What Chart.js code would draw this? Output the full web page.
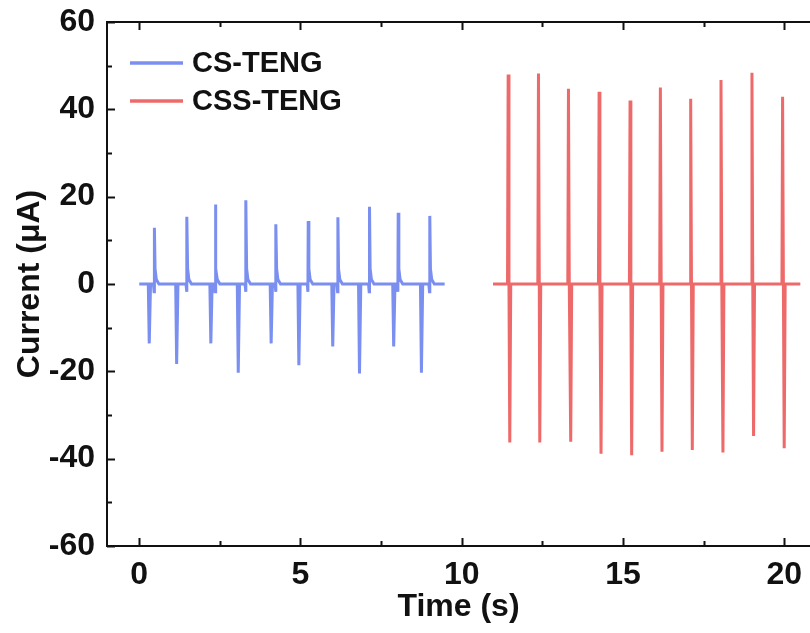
<!DOCTYPE html>
<html>
<head>
<meta charset="utf-8">
<script src="https://cdn.jsdelivr.net/npm/chart.js@4.4.1/dist/chart.umd.min.js"></script>
<style>
  html, body { margin: 0; padding: 0; background: #fff; }
  #wrap { width: 810px; height: 633px; }
</style>
</head>
<body>
<div id="wrap"><canvas id="currentChart" width="810" height="633"></canvas></div>
<script>
// CS-TENG trace (time in s, current in uA)
const csTime = [
    0.00,
    0.28, 0.31, 0.35, 0.44, 0.46, 0.47, 0.49, 0.53, 0.61,
    1.13, 1.16, 1.20, 1.45, 1.47, 1.48, 1.50, 1.54, 1.62,
    2.19, 2.22, 2.26, 2.33, 2.35, 2.36, 2.38, 2.42, 2.50,
    3.04, 3.07, 3.11, 3.28, 3.30, 3.31, 3.33, 3.37, 3.45,
    4.06, 4.09, 4.13, 4.21, 4.23, 4.24, 4.26, 4.30, 4.38,
    4.92, 4.95, 4.99, 5.21, 5.23, 5.24, 5.26, 5.30, 5.38,
    5.97, 6.00, 6.04, 6.13, 6.15, 6.16, 6.18, 6.22, 6.30,
    6.80, 6.83, 6.87, 7.11, 7.13, 7.14, 7.16, 7.20, 7.28,
    7.86, 7.89, 7.93, 8.00, 8.02, 8.03, 8.05, 8.09, 8.17,
    8.72, 8.75, 8.79, 8.98, 9.00, 9.01, 9.03, 9.07, 9.15,
    9.47
];
const csCurrent = [
    0,
    0, -13.6, 0, 0, -1.8, 12.9, 3.5, 1.0, 0,
    0, -18.3, 0, 0, -1.8, 15.4, 3.5, 1.0, 0,
    0, -13.6, 0, 0, -1.8, 18.2, 3.5, 1.0, 0,
    0, -20.3, 0, 0, -1.8, 19.2, 3.5, 1.0, 0,
    0, -13.6, 0, 0, -1.8, 13.7, 3.5, 1.0, 0,
    0, -18.6, 0, 0, -1.8, 14.4, 3.5, 1.0, 0,
    0, -14.3, 0, 0, -1.8, 15.3, 3.5, 1.0, 0,
    0, -20.5, 0, 0, -1.8, 17.7, 3.5, 1.0, 0,
    0, -14.3, 0, 0, -1.8, 16.3, 3.5, 1.0, 0,
    0, -20.3, 0, 0, -1.8, 15.6, 3.5, 1.0, 0,
    0
];

// CSS-TENG trace
const cssTime = [
    10.97,
    11.42, 11.44, 11.465, 11.49, 11.52,
    12.36, 12.38, 12.405, 12.42, 12.45,
    13.29, 13.31, 13.335, 13.38, 13.41,
    14.24, 14.26, 14.285, 14.32, 14.35,
    15.20, 15.22, 15.245, 15.27, 15.30,
    16.14, 16.16, 16.185, 16.21, 16.24,
    17.08, 17.10, 17.125, 17.15, 17.18,
    18.02, 18.04, 18.065, 18.10, 18.13,
    18.98, 19.00, 19.025, 19.05, 19.08,
    19.93, 19.95, 19.975, 20.00, 20.03,
    20.50
];
const cssCurrent = [
    0,
    0, 48.0, 0, -36.3, 0,
    0, 48.2, 0, -36.3, 0,
    0, 44.7, 0, -36.1, 0,
    0, 44.0, 0, -38.9, 0,
    0, 42.0, 0, -39.2, 0,
    0, 45.0, 0, -38.4, 0,
    0, 42.4, 0, -38.0, 0,
    0, 46.7, 0, -38.6, 0,
    0, 48.4, 0, -34.8, 0,
    0, 42.9, 0, -37.6, 0,
    0
];

const xTicks = [0, 5, 10, 15, 20];
const yTicks = [-60, -40, -20, 0, 20, 40, 60];

const FONT = "'Liberation Sans', Arial, sans-serif";
const INK = '#111';

function toPoints(xs, ys) {
    return xs.map((x, i) => ({ x: x, y: ys[i] }));
}

// box (left, top, bottom) and inward ticks like the origin plot
const frame = {
    id: 'frame',
    afterDraw(chart) {
        const ctx = chart.ctx;
        const a = chart.chartArea;
        const xs = chart.scales.x, ys = chart.scales.y;
        ctx.save();
        ctx.strokeStyle = INK;
        ctx.lineWidth = 2;
        ctx.beginPath();
        ctx.moveTo(a.right + 2, a.top);
        ctx.lineTo(a.left, a.top);
        ctx.lineTo(a.left, a.bottom);
        ctx.lineTo(a.right + 2, a.bottom);
        ctx.stroke();
        ctx.beginPath();
        for (let v = 0; v <= 20; v += 2.5) {
            const px = Math.round(xs.getPixelForValue(v)) + 0.5;
            const len = (v % 5 === 0) ? 8 : 5;
            ctx.moveTo(px, a.bottom);
            ctx.lineTo(px, a.bottom - len);
            ctx.moveTo(px, a.top);
            ctx.lineTo(px, a.top + len);
        }
        for (let v = -60; v <= 60; v += 10) {
            const py = Math.round(ys.getPixelForValue(v)) + 0.5;
            const len = (v % 20 === 0) ? 8 : 5;
            ctx.moveTo(a.left, py);
            ctx.lineTo(a.left + len, py);
        }
        ctx.stroke();
        ctx.restore();
    }
};

// legend drawn inside the plot, top-left
const insideLegend = {
    id: 'insideLegend',
    afterDraw(chart) {
        const ctx = chart.ctx;
        const rows = [63, 101];
        ctx.save();
        ctx.font = 'bold 29px ' + FONT;
        ctx.textBaseline = 'middle';
        ctx.fillStyle = INK;
        chart.data.datasets.forEach((ds, i) => {
            const y = rows[i];
            ctx.strokeStyle = ds.borderColor;
            ctx.lineWidth = 3.5;
            ctx.beginPath();
            ctx.moveTo(130, y);
            ctx.lineTo(183, y);
            ctx.stroke();
            ctx.fillText(ds.label, 192, y + 1);
        });
        ctx.restore();
    }
};

new Chart(document.getElementById('currentChart'), {
    type: 'line',
    data: {
        datasets: [{
            label: 'CS-TENG',
            data: toPoints(csTime, csCurrent),
            borderColor: '#7b8ff0',
            borderWidth: 3,
            pointRadius: 0,
            tension: 0
        }, {
            label: 'CSS-TENG',
            data: toPoints(cssTime, cssCurrent),
            borderColor: '#ee6a6a',
            borderWidth: 3,
            pointRadius: 0,
            tension: 0
        }]
    },
    options: {
        responsive: false,
        animation: false,
        layout: { padding: { top: 22, right: 0, left: 0, bottom: 0 } },
        plugins: {
            legend: { display: false },
            tooltip: { enabled: false }
        },
        scales: {
            x: {
                type: 'linear',
                min: -1,
                max: 20.8,
                afterBuildTicks: (s) => { s.ticks = xTicks.map(v => ({ value: v })); },
                afterFit: (s) => { s.height = 87; s.paddingLeft = 0; s.paddingRight = 0; },
                grid: { display: false, drawTicks: false },
                border: { display: false },
                ticks: {
                    padding: 10,
                    maxRotation: 0,
                    color: INK,
                    font: { family: FONT, size: 32, weight: 'bold' }
                },
                title: {
                    display: true,
                    text: 'Time (s)',
                    color: INK,
                    padding: { top: 0, bottom: 7 },
                    font: { family: FONT, size: 32, weight: 'bold' }
                }
            },
            y: {
                min: -60,
                max: 60,
                afterBuildTicks: (s) => { s.ticks = yTicks.map(v => ({ value: v })); },
                afterFit: (s) => { s.width = 107; s.paddingTop = 0; s.paddingBottom = 0; },
                grid: { display: false, drawTicks: false },
                border: { display: false },
                ticks: {
                    padding: 12,
                    color: INK,
                    font: { family: FONT, size: 32, weight: 'bold' }
                },
                title: {
                    display: true,
                    text: 'Current (μA)',
                    color: INK,
                    padding: { top: 11, bottom: 0 },
                    font: { family: FONT, size: 32, weight: 'bold' }
                }
            }
        }
    },
    plugins: [frame, insideLegend]
});
</script>
</body>
</html>
